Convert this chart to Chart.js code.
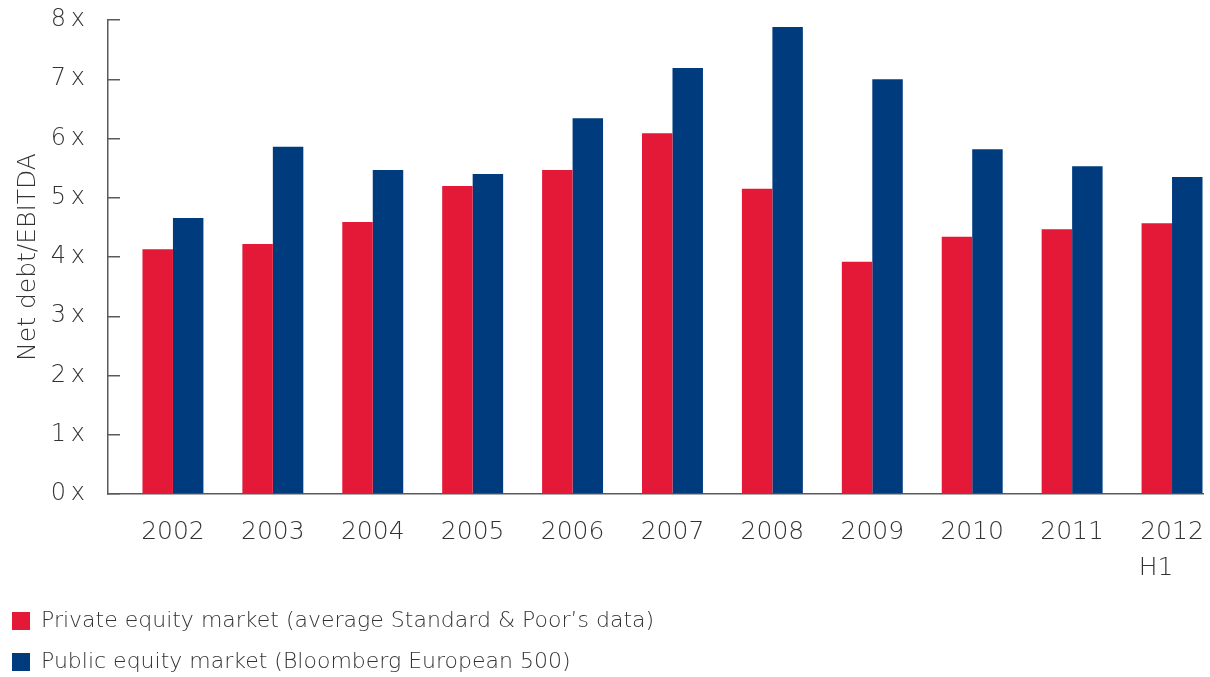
<!DOCTYPE html>
<html>
<head>
<meta charset="utf-8">
<script src="https://cdn.jsdelivr.net/npm/chart.js@4.4.1/dist/chart.umd.min.js"></script>
<style>
    html, body { margin: 0; padding: 0; background: #ffffff; }
    #wrap { width: 1210px; height: 677px; }
</style>
</head>
<body>
<div id="wrap"><canvas id="debtChart" width="1210" height="677"></canvas></div>
<script>
'use strict';

// Roky (kategorie osy x)
const years = ['2002', '2003', '2004', '2005', '2006', '2007', '2008', '2009', '2010', '2011', ['2012', 'H1    ']];

// Čistý dluh / EBITDA
const privateEquity = [4.13, 4.22, 4.59, 5.20, 5.47, 6.09, 5.15, 3.92, 4.34, 4.47, 4.57];
const publicEquity = [4.66, 5.86, 5.47, 5.40, 6.34, 7.19, 7.88, 7.00, 5.82, 5.53, 5.35];

// Popisky osy y
const yTicks = [0, 1, 2, 3, 4, 5, 6, 7, 8];

const seriesNames = [
    'Private equity market (average Standard & Poor\u2019s data)',
    'Public equity market (Bloomberg European 500)'
];

const RED = '#e31937';
const BLUE = '#003c7d';
const TEXT = '#333333';
const AXIS = '#5a5a5a';
const FONT = "'DejaVu Sans', sans-serif";

// Body pro lineární osu x (index roku)
const toPoints = values => values.map((v, i) => ({ x: i, y: v }));

const ctx = document.getElementById('debtChart').getContext('2d');

new Chart(ctx, {
    type: 'bar',
    data: {
        datasets: [{
            label: seriesNames[0],
            data: toPoints(privateEquity),
            backgroundColor: RED,
            borderWidth: 0
        }, {
            label: seriesNames[1],
            data: toPoints(publicEquity),
            backgroundColor: BLUE,
            borderWidth: 0
        }]
    },
    options: {
        responsive: false,
        animation: false,
        categoryPercentage: 0.61,
        barPercentage: 1,
        layout: {
            padding: { left: -7, right: 7, top: 20, bottom: -6 }
        },
        scales: {
            x: {
                type: 'linear',
                offset: false,
                min: -0.65,
                max: 10.31,
                afterBuildTicks: axis => {
                    axis.ticks = years.map((_, i) => ({ value: i }));
                },
                afterFit: axis => {
                    axis.height = 97;
                    axis.paddingLeft = 0;
                    axis.paddingRight = 0;
                },
                ticks: {
                    color: TEXT,
                    font: { family: FONT, size: 25, weight: 200, lineHeight: 1.45 },
                    padding: 12,
                    autoSkip: false,
                    maxRotation: 0,
                    callback: value => years[value]
                },
                grid: { display: false, offset: false },
                border: { display: true, color: AXIS, width: 1.5 }
            },
            y: {
                min: 0,
                max: 8,
                afterBuildTicks: axis => {
                    axis.ticks = yTicks.map(v => ({ value: v }));
                },
                afterFit: axis => {
                    axis.width = 115;
                    axis.paddingTop = 0;
                    axis.paddingBottom = 0;
                },
                ticks: {
                    color: TEXT,
                    font: { family: FONT, size: 24, weight: 200 },
                    padding: 35,
                    callback: value => value + '\u2009x'
                },
                grid: {
                    display: true,
                    drawOnChartArea: false,
                    drawTicks: true,
                    tickLength: -12,
                    color: AXIS,
                    lineWidth: 1.5
                },
                border: { display: true, color: AXIS, width: 1.5 },
                title: {
                    display: true,
                    text: 'Net debt/EBITDA',
                    color: TEXT,
                    font: { family: FONT, size: 25, weight: 200 },
                    padding: { top: 20, bottom: 0 }
                }
            }
        },
        plugins: {
            legend: {
                position: 'bottom',
                align: 'start',
                labels: {
                    color: TEXT,
                    font: { family: FONT, size: 22, weight: 200 },
                    boxWidth: 18,
                    boxHeight: 18,
                    padding: 19
                }
            },
            tooltip: { enabled: false }
        }
    }
});
</script>
</body>
</html>
